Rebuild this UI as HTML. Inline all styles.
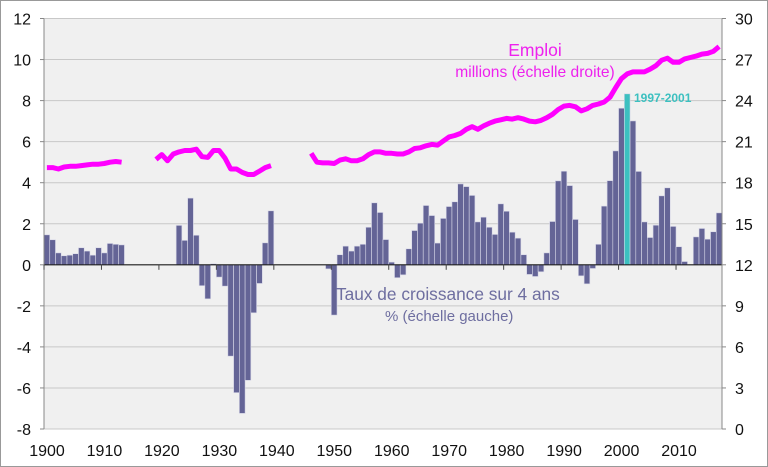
<!DOCTYPE html>
<html><head><meta charset="utf-8"><style>
body{margin:0;background:#fff;}
svg{display:block;font-family:"Liberation Sans",sans-serif;}
</style></head><body>
<svg id="c" width="768" height="467" viewBox="0 0 768 467">
<rect x="0.5" y="0.5" width="767" height="466" fill="#fff" stroke="#999"/>
<rect x="44" y="18.5" width="678" height="410.5" fill="#f0f0f0"/>
<g id="grid"></g><g id="bars"></g><g id="line"></g><g id="axes"></g>
<text x="535" y="56" font-size="17.5" fill="#ee22ee" text-anchor="middle">Emploi</text>
<text x="535" y="77" font-size="15.6" fill="#ee22ee" text-anchor="middle">millions (échelle droite)</text>
<text x="634" y="102" font-size="12" font-weight="bold" fill="#3cc0c0">1997-2001</text>
<text x="336" y="300" font-size="17.3" fill="#6e6ea0">Taux de croissance sur 4 ans</text>
<text x="385" y="321" font-size="15" fill="#6e6ea0">% (échelle gauche)</text>
</svg>
<script>
const years=[];for(let y=1900;y<=2017;y++)years.push(y);
const growth={1900:1.46,1901:1.22,1902:0.58,1903:0.44,1904:0.47,1905:0.54,1906:0.83,1907:0.67,1908:0.47,1909:0.83,1910:0.58,1911:1.04,1912:1.0,1913:0.97,
1923:1.92,1924:1.19,1925:3.25,1926:1.44,1927:-1.02,1928:-1.66,1929:0.05,1930:-0.6,1931:-1.04,1932:-4.45,1933:-6.23,1934:-7.24,1935:-5.63,1936:-2.34,1937:-0.91,1938:1.07,1939:2.63,
1949:-0.2,1950:-2.45,1951:0.49,1952:0.91,1953:0.67,1954:0.91,1955:1.0,1956:1.83,1957:3.02,1958:2.55,1959:1.23,1960:0.13,1961:-0.63,1962:-0.49,1963:0.78,1964:1.67,1965:2.03,1966:2.89,1967:2.4,1968:1.06,1969:2.26,1970:2.84,1971:3.07,1972:3.94,1973:3.81,1974:3.38,1975:2.09,1976:2.32,1977:1.83,1978:1.48,1979:2.97,1980:2.61,1981:1.59,1982:1.3,1983:0.49,1984:-0.47,1985:-0.57,1986:-0.34,1987:0.58,1988:2.11,1989:4.09,1990:4.56,1991:3.86,1992:2.21,1993:-0.54,1994:-0.93,1995:-0.18,1996:1.0,1997:2.86,1998:4.1,1999:5.55,2000:7.63,2001:8.33,2002:7.01,2003:4.55,2004:2.09,2005:1.33,2006:1.93,2007:3.36,2008:3.75,2009:1.87,2010:0.88,2011:0.16,2012:0,2013:1.36,2014:1.77,2015:1.25,2016:1.61,2017:2.53};
const emploi={1900:19.1,1901:19.1,1902:19.0,1903:19.15,1904:19.2,1905:19.2,1906:19.25,1907:19.3,1908:19.35,1909:19.35,1910:19.4,1911:19.5,1912:19.55,1913:19.5,
1919:19.7,1920:20.05,1921:19.6,1922:20.1,1923:20.25,1924:20.35,1925:20.35,1926:20.45,1927:19.9,1928:19.85,1929:20.35,1930:20.35,1931:19.8,1932:19.0,1933:19.0,1934:18.75,1935:18.6,1936:18.6,1937:18.85,1938:19.1,1939:19.25,
1946:20.15,1947:19.5,1948:19.45,1949:19.45,1950:19.4,1951:19.65,1952:19.75,1953:19.6,1954:19.6,1955:19.75,1956:20.05,1957:20.25,1958:20.25,1959:20.15,1960:20.15,1961:20.1,1962:20.1,1963:20.25,1964:20.5,1965:20.55,1966:20.7,1967:20.8,1968:20.75,1969:21.05,1970:21.35,1971:21.45,1972:21.6,1973:21.9,1974:22.1,1975:21.9,1976:22.15,1977:22.35,1978:22.5,1979:22.6,1980:22.7,1981:22.65,1982:22.75,1983:22.65,1984:22.5,1985:22.45,1986:22.55,1987:22.75,1988:23.0,1989:23.35,1990:23.6,1991:23.65,1992:23.55,1993:23.25,1994:23.4,1995:23.65,1996:23.75,1997:23.9,1998:24.25,1999:24.95,2000:25.6,2001:25.95,2002:26.1,2003:26.1,2004:26.1,2005:26.3,2006:26.55,2007:26.95,2008:27.1,2009:26.8,2010:26.8,2011:27.05,2012:27.15,2013:27.25,2014:27.4,2015:27.45,2016:27.6,2017:27.95};
const leftTicks=[-8,-6,-4,-2,0,2,4,6,8,10,12];
const rightTicks=[0,3,6,9,12,15,18,21,24,27,30];
const xLabels=[1900,1910,1920,1930,1940,1950,1960,1970,1980,1990,2000,2010];
const highlightYear=2001;

const NS="http://www.w3.org/2000/svg";
const X0=44,X1=722,YT=18.5,YB=429;
const bw=(X1-X0)/years.length;
const xs=y=>X0+(y-1900)*bw;
const yl=v=>YB-(v+8)/20*(YB-YT);
const yr=v=>YB-v/30*(YB-YT);
function mk(t,a,p){const e=document.createElementNS(NS,t);for(const k in a)e.setAttribute(k,a[k]);p.appendChild(e);return e;}
const grid=document.getElementById('grid'),bars=document.getElementById('bars'),line=document.getElementById('line'),axes=document.getElementById('axes');
leftTicks.forEach(v=>{
 const g=mk('line',{x1:X0,x2:X1,y1:yl(v),y2:yl(v),stroke:'#c8c8c8','stroke-width':1},grid);
 
 
 const t=mk('text',{x:31,y:yl(v)+6,'font-size':16,'text-anchor':'end',fill:'#111'},axes);t.textContent=v;
 
 
 mk('line',{x1:X0-4,x2:X0,y1:yl(v),y2:yl(v),stroke:'#888'},axes);
});
rightTicks.forEach(v=>{
 const t=mk('text',{x:735,y:yr(v)+6,'font-size':16,fill:'#111'},axes);t.textContent=v;
 
 
 mk('line',{x1:X1,x2:X1+4,y1:yr(v),y2:yr(v),stroke:'#888'},axes);
});
years.forEach(y=>{
 const v=growth[y];if(v===undefined||v===0)return;
 const r=mk('rect',{x:xs(y),width:bw,y:Math.min(yl(v),yl(0)),height:Math.abs(yl(v)-yl(0)),fill:y===highlightYear?'#3cc0c0':'#646496',stroke:'#d8d8e8','stroke-width':0.6},bars);
 
 
});
let segs=[],cur=[];
years.forEach(y=>{const v=emploi[y];if(v===undefined){if(cur.length)segs.push(cur);cur=[];}else cur.push((xs(y)+bw/2).toFixed(1)+','+yr(v).toFixed(1));});
if(cur.length)segs.push(cur);
segs.forEach(s=>{
 const p=mk('polyline',{points:s.join(' '),fill:'none',stroke:'#ff00ff','stroke-width':5,'stroke-linejoin':'round'},line);
 
 
});
mk('line',{x1:X0,x2:X1,y1:yl(0),y2:yl(0),stroke:'#222','stroke-width':1.2},axes);
mk('line',{x1:X0,x2:X0,y1:YT,y2:YB,stroke:'#888'},axes);
mk('line',{x1:X1,x2:X1,y1:YT,y2:YB,stroke:'#888'},axes);
xLabels.forEach(y=>{
 mk('line',{x1:xs(y),x2:xs(y),y1:yl(0),y2:yl(0)+5,stroke:'#444'},axes);
 const t=mk('text',{x:xs(y)+3,y:456,'font-size':16,'text-anchor':'middle',fill:'#111'},axes);t.textContent=y;
 
 
});
</script>
</body></html>
